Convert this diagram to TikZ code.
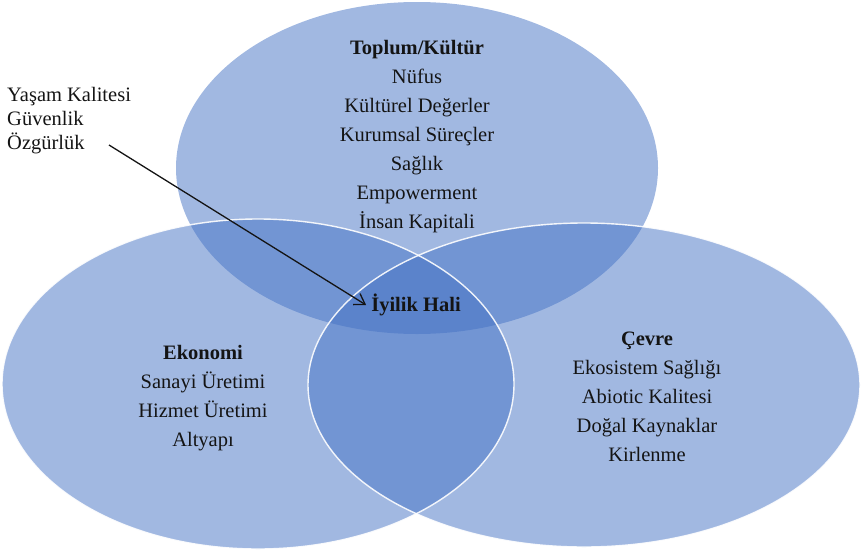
\documentclass[tikz,border=0pt]{standalone}
\usepackage{fontspec}
\setmainfont{Liberation Serif}
\usetikzlibrary{arrows.meta}
\definecolor{accentblue}{HTML}{4472C4}
\definecolor{txt}{HTML}{141414}
\tikzset{
  circfill/.style={fill=accentblue, fill opacity=0.5},
  circborder/.style={draw=white, line width=1.4pt, draw opacity=0.9},
  grouptext/.style={align=center, text=txt, inner sep=0pt, font=\fontsize{20.5pt}{29pt}\selectfont},
  sidetext/.style={align=left, text=txt, inner sep=0pt, anchor=north west, font=\fontsize{20.5pt}{24pt}\selectfont},
  pointer/.style={-{Straight Barb[length=10pt,width=13pt,line width=1.3pt]}, line width=1.3pt, draw=txt}
}
\begin{document}
\begin{tikzpicture}[x=1pt,y=-1pt]
\useasboundingbox (0,0) rectangle (861,554);
% fills
\path[circfill] (417,168) ellipse [x radius=241pt, y radius=166pt];
\path[circfill] (258,384) ellipse [x radius=256pt, y radius=165pt];
\path[circfill] (584,385) ellipse [x radius=276pt, y radius=162pt];
% borders
\path[circborder] (258,384) ellipse [x radius=256pt, y radius=165pt];
\path[circborder] (584,385) ellipse [x radius=276pt, y radius=162pt];
% texts
\node[grouptext] (toplum) at (417,137) {\textbf{Toplum/Kültür}\\Nüfus\\Kültürel Değerler\\Kurumsal Süreçler\\Sağlık\\Empowerment\\İnsan Kapitali};
\node[grouptext] (ekonomi) at (203,398) {\textbf{Ekonomi}\\Sanayi Üretimi\\Hizmet Üretimi\\Altyapı};
\node[grouptext] (cevre) at (647,397) {\textbf{Çevre}\\Ekosistem Sağlığı\\Abiotic Kalitesi\\Doğal Kaynaklar\\Kirlenme};
\node[grouptext, inner sep=5pt] (iyilik) at (416,305) {\textbf{İyilik Hali}};
\node[sidetext] (side) at (7,87) {Yaşam Kalitesi\\Güvenlik\\Özgürlük};
\coordinate (arrS) at (109,145);
\draw[pointer] (arrS) -- (iyilik.west);
\end{tikzpicture}
\end{document}
